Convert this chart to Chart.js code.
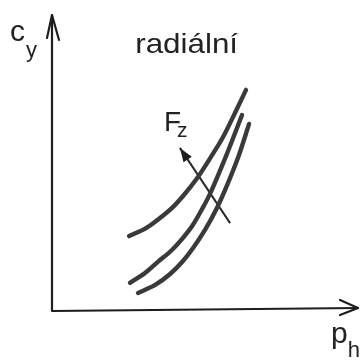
<!DOCTYPE html>
<html>
<head>
<meta charset="utf-8">
<script src="https://cdn.jsdelivr.net/npm/chart.js@4/dist/chart.umd.min.js"></script>
<style>
  html, body { margin: 0; padding: 0; background: #fff; }
  #wrap { width: 360px; height: 361px; }
</style>
</head>
<body>
<div id="wrap"><canvas id="c"></canvas></div>
<script>
// Three c_y(p_h) characteristics for increasing axial load F_z (relative units)
const curveLowX  = [25.2, 30.7, 34.9, 39.5, 43.1, 47.7, 51.9, 55.9, 59.8, 63.4];
const curveLowY  = [25.3, 28.0, 31.1, 35.1, 39.2, 45.3, 52.0, 58.8, 66.9, 74.7];
const curveMidX  = [25.5, 30.4, 34.6, 39.2, 42.8, 45.8, 48.7, 51.6, 56.9, 62.1];
const curveMidY  = [9.5, 12.8, 16.6, 20.6, 24.7, 28.7, 33.8, 39.5, 52.4, 66.2];
const curveHighX = [28.1, 33.7, 38.6, 42.8, 46.1, 50.0, 53.9, 57.5, 61.1, 64.4];
const curveHighY = [6.1, 8.8, 12.5, 16.9, 21.3, 27.4, 34.8, 43.2, 52.7, 63.2];
// direction of growing F_z
const arrowX = [58.2, 41.8];
const arrowY = [29.7, 55.1];

const title = 'radiální';
const yName = ['c', 'y'];
const xName = ['p', 'h'];
const loadName = ['F', 'z'];

const toPts = (xs, ys) => xs.map((x, i) => ({ x, y: ys[i] }));
const FONT = '"Liberation Sans", Arial, sans-serif';

function subLabel(ctx, main, sub, x, y, mainSize, subSize, subDx, subDy) {
  ctx.font = mainSize + 'px ' + FONT;
  ctx.fillText(main, x, y);
  const w = ctx.measureText(main).width;
  ctx.font = subSize + 'px ' + FONT;
  ctx.fillText(sub, x + w + subDx, y + subDy);
}

const decor = {
  id: 'decor',
  afterDatasetsDraw(chart) {
    const { ctx, chartArea: a, scales } = chart;
    const xs = scales.x, ys = scales.y;
    ctx.save();
    ctx.strokeStyle = '#1e1e1e';
    ctx.fillStyle = '#1e1e1e';
    ctx.lineCap = 'round';
    ctx.lineJoin = 'round';

    // axes with open arrowheads
    ctx.lineWidth = 2.2;
    ctx.beginPath();
    ctx.moveTo(a.left, a.bottom);
    ctx.lineTo(a.left, a.top);
    ctx.moveTo(a.left, a.bottom);
    ctx.lineTo(a.right, a.bottom - 3);
    ctx.stroke();
    ctx.beginPath();
    ctx.moveTo(a.left - 5, a.top + 23);
    ctx.lineTo(a.left, a.top);
    ctx.lineTo(a.left + 7, a.top + 25);
    ctx.moveTo(a.right - 18, a.bottom - 11);
    ctx.lineTo(a.right, a.bottom - 3);
    ctx.lineTo(a.right - 18, a.bottom + 4);
    ctx.stroke();

    // arrowhead on the F_z direction line
    const x0 = xs.getPixelForValue(arrowX[0]), y0 = ys.getPixelForValue(arrowY[0]);
    const x1 = xs.getPixelForValue(arrowX[1]), y1 = ys.getPixelForValue(arrowY[1]);
    const ang = Math.atan2(y1 - y0, x1 - x0);
    const L = 14, W = 5;
    ctx.beginPath();
    ctx.moveTo(x1, y1);
    ctx.lineTo(x1 - L * Math.cos(ang) + W * Math.sin(ang), y1 - L * Math.sin(ang) - W * Math.cos(ang));
    ctx.lineTo(x1 - L * Math.cos(ang) - W * Math.sin(ang), y1 - L * Math.sin(ang) + W * Math.cos(ang));
    ctx.closePath();
    ctx.fill();

    // labels
    ctx.fillStyle = '#222';
    ctx.textBaseline = 'alphabetic';
    ctx.textAlign = 'left';
    subLabel(ctx, yName[0], yName[1], a.left - 42, a.top + 26, 30, 22, 1, 16);
    subLabel(ctx, xName[0], xName[1], a.right - 27, a.bottom + 32, 30, 22, 0, 14);
    subLabel(ctx, loadName[0], loadName[1],
      xs.getPixelForValue(arrowX[1]) - 16, ys.getPixelForValue(arrowY[1]) - 17, 28, 21, -4, 6);

    // title, set slightly wide
    ctx.font = '28px ' + FONT;
    ctx.translate(xs.getPixelForValue(27.2), ys.getPixelForValue(87));
    ctx.scale(1.12, 1);
    ctx.fillText(title, 0, 0);
    ctx.restore();
  }
};

const lineStyle = {
  borderColor: '#3a3a3a',
  borderWidth: 4.4,
  pointRadius: 0,
  fill: false,
  cubicInterpolationMode: 'monotone',
  borderCapStyle: 'round'
};

new Chart(document.getElementById('c'), {
  type: 'scatter',
  data: {
    datasets: [
      Object.assign({ label: 'F_z 1', data: toPts(curveLowX, curveLowY), showLine: true }, lineStyle),
      Object.assign({ label: 'F_z 2', data: toPts(curveMidX, curveMidY), showLine: true }, lineStyle),
      Object.assign({ label: 'F_z 3', data: toPts(curveHighX, curveHighY), showLine: true }, lineStyle),
      { label: 'F_z', data: toPts(arrowX, arrowY), showLine: true, borderColor: '#2a2a2a',
        borderWidth: 2, pointRadius: 0, fill: false }
    ]
  },
  options: {
    responsive: true,
    maintainAspectRatio: false,
    animation: false,
    events: [],
    layout: { padding: { left: 52, right: 2, top: 15, bottom: 50 } },
    plugins: { legend: { display: false }, tooltip: { enabled: false }, title: { display: false } },
    scales: {
      x: { type: 'linear', min: 0, max: 100, display: false },
      y: { type: 'linear', min: 0, max: 100, display: false }
    }
  },
  plugins: [decor]
});
</script>
</body>
</html>
